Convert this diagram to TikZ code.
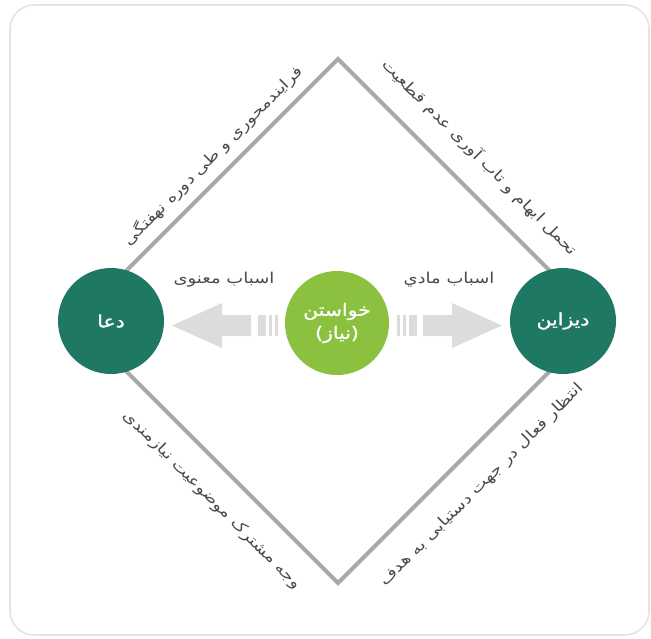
\documentclass[tikz,border=0pt]{standalone}
\usepackage{fontspec}
\setmainfont{DejaVu Sans}
\newfontfamily\fa[Script=Arabic,FakeStretch=1.2]{DejaVu Sans}
\newfontfamily\fabold[Script=Arabic,FakeStretch=1.2,FakeBold=1.2]{DejaVu Sans}
\TeXXeTstate=1
\usetikzlibrary{calc}
\definecolor{tealdark}{HTML}{1E7864}
\definecolor{leafgreen}{HTML}{8CC03F}
\definecolor{arrowgray}{HTML}{DCDCDC}
\definecolor{edgegray}{HTML}{A9A9A9}
\definecolor{framegray}{HTML}{E4E4E4}
\definecolor{labelgray}{HTML}{4A4A4A}
\begin{document}
\begin{tikzpicture}[x=1pt,y=-1pt,
  framebox/.style={draw=framegray,line width=1.6pt,rounded corners=24pt},
  edgeline/.style={draw=edgegray,line width=4pt,line cap=butt},
  hub/.style={circle,fill=tealdark,minimum size=106pt,inner sep=0pt,
    text=white,font=\fabold\fontsize{17}{20}\selectfont},
  core/.style={circle,fill=leafgreen,minimum size=104pt,inner sep=0pt,
    text=white,align=center,font=\fabold\fontsize{17}{23}\selectfont},
  sidetext/.style={text=labelgray,inner sep=0pt,font=\fa\fontsize{15}{17}\selectfont},
  cause/.style={text=labelgray,inner sep=0pt,font=\fa\fontsize{15}{17}\selectfont},
  fatarrow/.style={fill=arrowgray,draw=none}
]
\useasboundingbox (0,0) rectangle (651,638);
% outer rounded frame
\draw[framebox] (10,5) rectangle (649,635);

% diamond corners
\coordinate (apex) at (338,59);
\coordinate (east) at (600,321);
\coordinate (nadir) at (338,583);
\coordinate (west) at (76,321);
\draw[edgeline] (west) -- (apex) -- (east) -- (nadir) -- cycle;

% left arrow (towards the prayer circle)
\fill[fatarrow] (172,325.5) -- (222,303) -- (222,315) -- (251,315) -- (251,336)
  -- (222,336) -- (222,348) -- cycle;
\fill[fatarrow] (257.5,315) rectangle (265.5,336);
\fill[fatarrow] (268.5,315) rectangle (271.5,336);
\fill[fatarrow] (274.5,315) rectangle (277.5,336);
% right arrow (towards the design circle)
\fill[fatarrow] (502,325.5) -- (452,303) -- (452,315) -- (423,315) -- (423,336)
  -- (452,336) -- (452,348) -- cycle;
\fill[fatarrow] (408.5,315) rectangle (416.5,336);
\fill[fatarrow] (402.5,315) rectangle (405.5,336);
\fill[fatarrow] (396.5,315) rectangle (399.5,336);

% circles
\node[hub] (doa) at (111,321) {\beginR دعا\endR};
\node[hub] (design) at (563,321) {\beginR دیزاین\endR};
\node[core] (want) at (337,323) {\beginR خواستن\endR\\\beginR (نیاز)\endR};

% arrow captions
\node[cause] (spirit) at (224,280) {\beginR اسباب معنوی\endR};
\node[cause] (matter) at (449,280) {\beginR اسباب مادي\endR};

% captions along the diamond edges
\node[sidetext,rotate=45] (tl) at (213,156) {\beginR فرایندمحوری و طی دوره نهفتگی\endR};
\node[sidetext,rotate=-45] (tr) at (480,157) {\beginR تحمل ابهام و تاب آوری عدم قطعیت\endR};
\node[sidetext,rotate=-45] (bl) at (212,500) {\beginR وجه مشترک موضوعیت نیازمندی\endR};
\node[sidetext,rotate=45] (br) at (482,485) {\beginR انتظار فعال در جهت دستیابی به هدف\endR};
\end{tikzpicture}
\end{document}
